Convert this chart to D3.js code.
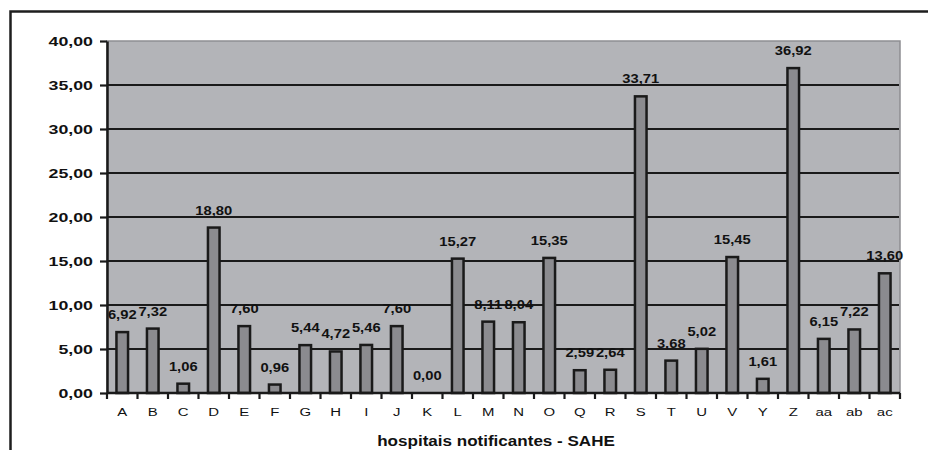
<!DOCTYPE html>
<html>
<head>
<meta charset="utf-8">
<script src="https://cdn.jsdelivr.net/npm/d3@7/dist/d3.min.js"></script>
<style>
  html, body { margin: 0; padding: 0; background: #ffffff; }
  svg { display: block; }
  text { font-family: "Liberation Sans", Arial, sans-serif; fill: #111; }
</style>
</head>
<body>
<svg id="chart" width="928" height="450"></svg>
<script>
const categories = ["A","B","C","D","E","F","G","H","I","J","K","L","M","N","O","Q","R","S","T","U","V","Y","Z","aa","ab","ac"];
const values = [6.92, 7.32, 1.06, 18.80, 7.60, 0.96, 5.44, 4.72, 5.46, 7.60, 0.00, 15.27, 8.11, 8.04, 15.35, 2.59, 2.64, 33.71, 3.68, 5.02, 15.45, 1.61, 36.92, 6.15, 7.22, 13.60];
const yTicks = [0, 5, 10, 15, 20, 25, 30, 35, 40];
const xTitle = "hospitais notificantes - SAHE";

const fmt = v => d3.format(".2f")(v).replace(".", ",");

const svg = d3.select("#chart");
const plot = { left: 107, right: 900, top: 41, bottom: 393 };

const x = d3.scaleBand().domain(categories).range([plot.left, plot.right]).padding(0);
const y = d3.scaleLinear().domain([0, 40]).range([plot.bottom, plot.top]);
const step = x.step();
const barW = step * 0.38;

// outer frame (top and left edges visible)
svg.append("path")
  .attr("d", `M10.5,450 L10.5,11.5 L928,11.5`)
  .attr("fill", "none").attr("stroke", "#1e1e1e").attr("stroke-width", 2.5);

// plot background
svg.append("rect")
  .attr("x", plot.left).attr("y", plot.top)
  .attr("width", plot.right - plot.left).attr("height", plot.bottom - plot.top)
  .attr("fill", "#b3b4b8").attr("stroke", "#8e8e92").attr("stroke-width", 1.5);

// gridlines
svg.append("g").selectAll("line")
  .data(yTicks.filter(t => t > 0 && t < 40))
  .join("line")
  .attr("x1", plot.left).attr("x2", plot.right - 1)
  .attr("y1", d => y(d)).attr("y2", d => y(d))
  .attr("stroke", "#1a1a1a").attr("stroke-width", 2.2);

// bars
svg.append("g").selectAll("rect")
  .data(categories.map((c, i) => ({ c, v: values[i] })))
  .join("rect")
  .attr("x", d => x(d.c) + step / 2 - barW / 2)
  .attr("y", d => y(d.v))
  .attr("width", barW)
  .attr("height", d => y(0) - y(d.v))
  .attr("fill", "#8b8b8f")
  .attr("stroke", "#1a1a1a").attr("stroke-width", 2.5);

// value labels
svg.append("g").selectAll("text")
  .data(categories.map((c, i) => ({ c, v: values[i] })))
  .join("text")
  .attr("text-anchor", "middle")
  .attr("transform", d => `translate(${x(d.c) + step / 2},${y(d.v) - 13}) scale(1.18,1)`)
  .style("font-size", "12.5px").style("font-weight", "bold")
  .text(d => fmt(d.v));

// y axis
const yAxis = svg.append("g")
  .attr("transform", `translate(${plot.left},0)`)
  .call(d3.axisLeft(y).tickValues(yTicks).tickFormat(fmt).tickSize(7).tickSizeOuter(0));
yAxis.select(".domain").attr("stroke", "#1a1a1a").attr("stroke-width", 2.5);
yAxis.selectAll(".tick line").attr("stroke", "#1a1a1a").attr("stroke-width", 2.2);
yAxis.selectAll(".tick text")
  .attr("x", null).attr("dy", null)
  .attr("transform", "translate(-14,4.5) scale(1.42,1)")
  .attr("text-anchor", "end")
  .style("font-size", "12.5px").style("font-weight", "bold")
  .style("font-family", '"Liberation Sans", Arial, sans-serif')
  .attr("fill", "#111");

// x axis line
svg.append("line")
  .attr("x1", plot.left).attr("x2", plot.right)
  .attr("y1", y(0)).attr("y2", y(0))
  .attr("stroke", "#1a1a1a").attr("stroke-width", 2.5);

// x boundary ticks
const bounds = categories.map(c => x(c)).concat([x.range()[1]]);
svg.append("g").selectAll("line")
  .data(bounds)
  .join("line")
  .attr("x1", d => d).attr("x2", d => d)
  .attr("y1", y(0)).attr("y2", y(0) + 6)
  .attr("stroke", "#1a1a1a").attr("stroke-width", 2.2);

// x labels
svg.append("g").selectAll("text")
  .data(categories)
  .join("text")
  .attr("text-anchor", "middle")
  .attr("transform", d => `translate(${x(d) + step / 2},416) scale(1.3,1)`)
  .style("font-size", "11.5px")
  .text(d => d);

// x title
svg.append("text")
  .attr("text-anchor", "middle")
  .attr("transform", `translate(496,446) scale(1.1,1)`)
  .style("font-size", "15.5px").style("font-weight", "bold")
  .text(xTitle);
</script>
</body>
</html>
